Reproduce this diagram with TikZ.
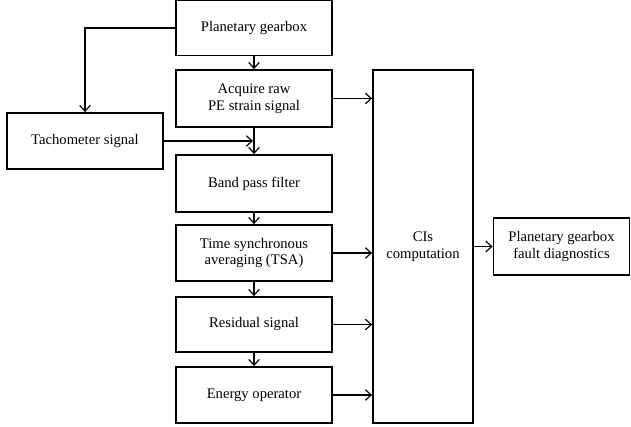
\documentclass[tikz,border=0pt]{standalone}
\usepackage{fontspec}
\setmainfont{Liberation Serif}
\usetikzlibrary{arrows.meta}
\begin{document}
\begin{tikzpicture}[x=0.03cm,y=-0.03cm,
  every node/.style={font=\fontsize{12.5}{14.5}\selectfont},
  blk/.style={draw,line width=1.5pt,align=center,inner sep=0pt,minimum width=156*0.03cm},
  arr/.style={->,line width=1pt,>={Straight Barb[length=5pt,width=9pt]}}]
\useasboundingbox (0,0) rectangle (631,427);
% Processing chain
\node[blk,minimum height=55*0.03cm] (gear) at (254,28) {Planetary gearbox};
\node[blk,minimum height=57*0.03cm] (acq) at (254,98.5) {Acquire raw\\PE strain signal};
\node[blk,minimum height=56*0.03cm] (tach) at (85,141) {Tachometer signal};
\node[blk,minimum height=57*0.03cm] (band) at (254,183.5) {Band pass filter};
\node[blk,minimum height=56*0.03cm] (tsa) at (254,253) {Time synchronous\\averaging (TSA)};
\node[blk,minimum height=55*0.03cm] (res) at (254,324.5) {Residual signal};
\node[blk,minimum height=56*0.03cm] (eng) at (254,395) {Energy operator};
% Indicators and diagnostics
\node[blk,minimum width=100*0.03cm,minimum height=353*0.03cm] (cis) at (423,246.5) {CIs\\computation};
\node[blk,minimum width=136*0.03cm,minimum height=57*0.03cm] (diag) at (561.5,246.5) {Planetary gearbox\\fault diagnostics};
\coordinate (tachend) at (253,141);
\draw[arr] (gear) -- (acq);
\draw[arr] (gear.west) -| (tach.north);
\draw[arr] (acq) -- (band);
\draw[arr] (tach.east) -- (tachend);
\foreach \a/\b in {band/tsa,tsa/res,res/eng} \draw[arr] (\a) -- (\b);
\foreach \a in {acq,tsa,res,eng} \draw[arr] (\a.east) -- (\a.east -| cis.west);
\draw[arr] (cis.east) -- (diag.west);
\end{tikzpicture}
\end{document}
